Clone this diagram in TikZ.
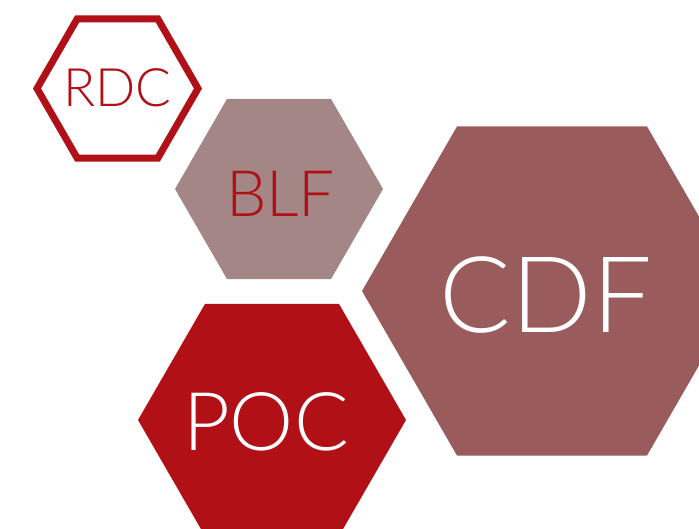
\documentclass[tikz,border=0pt]{standalone}
\usepackage{fontspec}
\setmainfont{Lato Light}
\definecolor{hexred}{HTML}{B01016}
\definecolor{hexgrey}{HTML}{A38685}
\definecolor{hexrose}{HTML}{9A5B5C}
\tikzset{
    hexlabel/.style={anchor=base,inner sep=0pt},
}
\begin{document}
\begin{tikzpicture}[x=1pt,y=-1pt]
            \useasboundingbox (0,0) rectangle (699,529);
            \clip (0,0) rectangle (699,529);
            % centres of the four hexagons
            \coordinate (rdc) at (117.5,88.5);
            \coordinate (blf) at (279,189);
            \coordinate (cdf) at (552,291);
            \coordinate (poc) at (272,420);
            % filled ones
            \foreach \c \r \col in {blf/104/hexgrey, cdf/190/hexrose, poc/134/hexred}{
                    \fill[\col] (\c) +(0:\r) -- +(60:\r) -- +(120:\r) -- +(180:\r) -- +(240:\r) -- +(300:\r) -- cycle;
                }
            % outlined one
            \draw[hexred,line width=7pt,line join=miter] (rdc) +(0:80.5) -- +(60:80.5) -- +(120:80.5) -- +(180:80.5) -- +(240:80.5) -- +(300:80.5) -- cycle;
            \node[hexlabel,hexred,font=\fontsize{53}{53}\selectfont] (rdctext) at (117.5,107) {RDC};
            \node[hexlabel,hexred,font=\fontsize{64}{64}\selectfont] (blftext) at (280.5,217) {BLF};
            \node[hexlabel,white,font=\fontsize{106}{106}\selectfont] (cdftext) at (546,333) {CDF};
            \node[hexlabel,white,font=\fontsize{81}{81}\selectfont] (poctext) at (266,450) {POC};
        \end{tikzpicture}
\end{document}
